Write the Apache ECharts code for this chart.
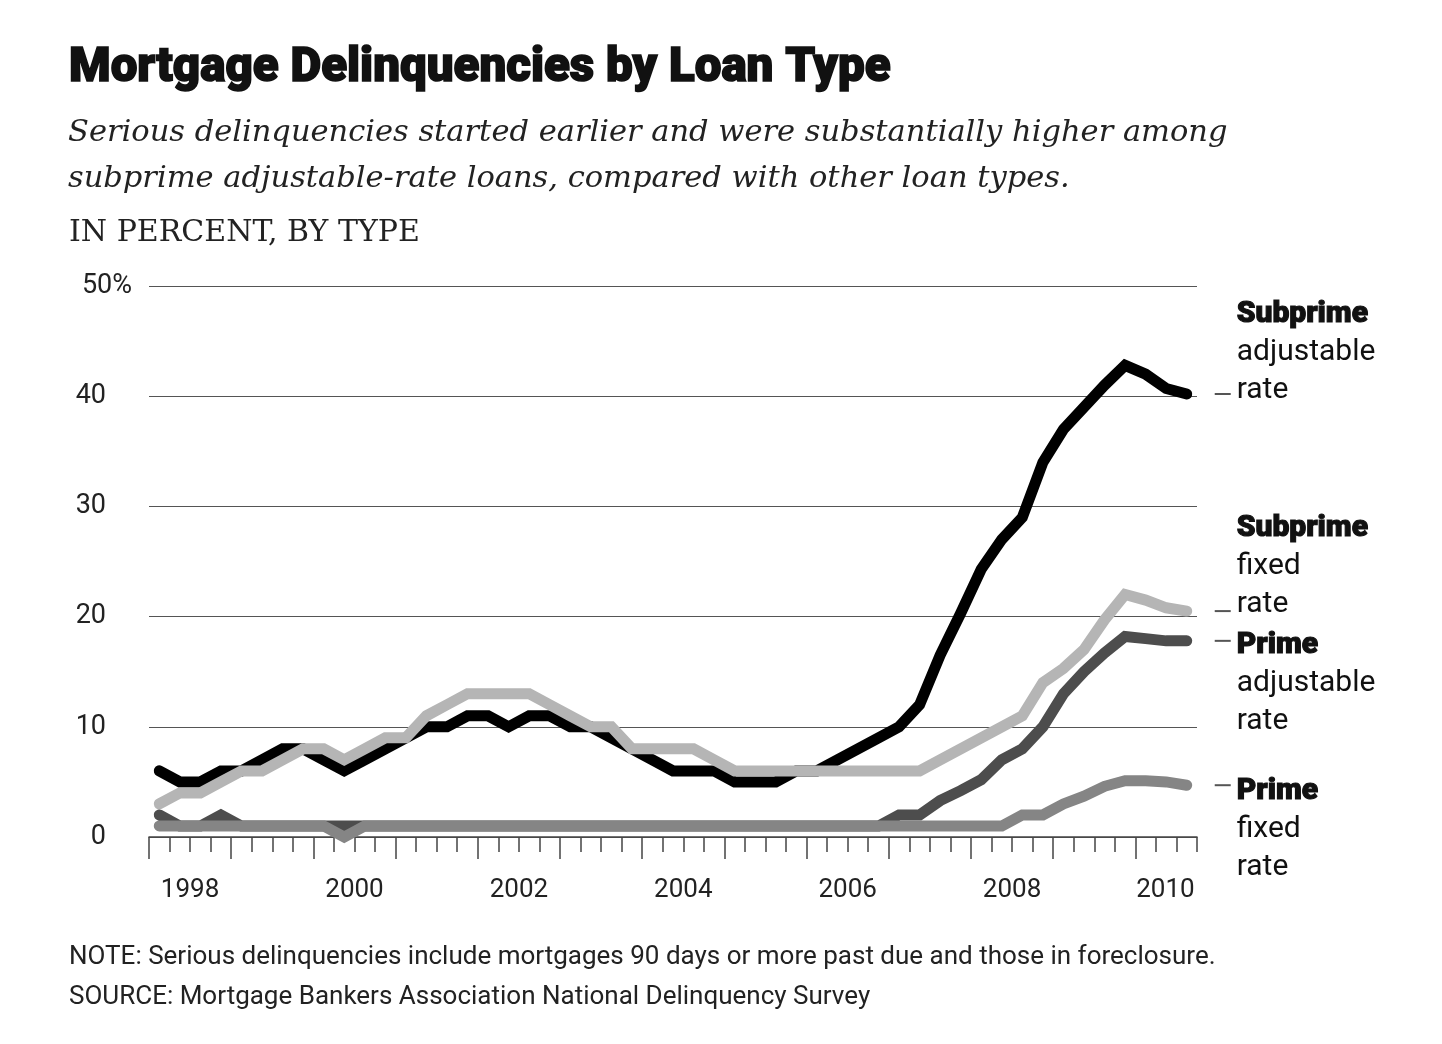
<!DOCTYPE html>
<html>
<head>
<meta charset="utf-8">
<title>Mortgage Delinquencies by Loan Type</title>
<script src="https://cdn.jsdelivr.net/npm/echarts@6/dist/echarts.min.js"></script>
<style>
  html, body { margin: 0; padding: 0; background: #fff; }
  #chart { width: 1442px; height: 1044px; }
</style>
</head>
<body>
<div id="chart"></div>
<script>
// quarterly readings, 1998 Q1 .. 2010 Q3
const quarters = [
  "1998Q1", "1998Q2", "1998Q3", "1998Q4", "1999Q1", "1999Q2", "1999Q3", "1999Q4",
  "2000Q1", "2000Q2", "2000Q3", "2000Q4", "2001Q1", "2001Q2", "2001Q3", "2001Q4",
  "2002Q1", "2002Q2", "2002Q3", "2002Q4", "2003Q1", "2003Q2", "2003Q3", "2003Q4",
  "2004Q1", "2004Q2", "2004Q3", "2004Q4", "2005Q1", "2005Q2", "2005Q3", "2005Q4",
  "2006Q1", "2006Q2", "2006Q3", "2006Q4", "2007Q1", "2007Q2", "2007Q3", "2007Q4",
  "2008Q1", "2008Q2", "2008Q3", "2008Q4", "2009Q1", "2009Q2", "2009Q3", "2009Q4",
  "2010Q1", "2010Q2", "2010Q3"
];

// long ticks at the start of each year, labels in the middle of every other year
const yearTicks = [1998, 1999, 2000, 2001, 2002, 2003, 2004, 2005, 2006, 2007, 2008, 2009, 2010];
const yearLabels = [1998, 2000, 2002, 2004, 2006, 2008, 2010];

const subprimeAdjustable = [
  6, 5, 5, 6, 6, 7, 8, 8, 7, 6, 7, 8, 9, 10, 10, 11, 11, 10, 11, 11,
  10, 10, 9, 8, 7, 6, 6, 6, 5, 5, 5, 6, 6, 7, 8, 9, 10, 12, 16.5, 20.3,
  24.3, 27, 29, 34, 37, 39, 41, 42.8, 42, 40.7, 40.2
];
const subprimeFixed = [
  3, 4, 4, 5, 6, 6, 7, 8, 8, 7, 8, 9, 9, 11, 12, 13, 13, 13, 13, 12,
  11, 10, 10, 8, 8, 8, 8, 7, 6, 6, 6, 6, 6, 6, 6, 6, 6, 6, 7, 8,
  9, 10, 11, 14, 15.3, 17, 19.7, 22, 21.5, 20.8, 20.5
];
const primeAdjustable = [
  2, 1, 1, 2, 1, 1, 1, 1, 1, 1, 1, 1, 1, 1, 1, 1, 1, 1, 1, 1,
  1, 1, 1, 1, 1, 1, 1, 1, 1, 1, 1, 1, 1, 1, 1, 1, 2, 2, 3.3, 4.2,
  5.2, 7, 8, 10, 13, 15, 16.7, 18.2, 18, 17.8, 17.8
];
const primeFixed = [
  1, 1, 1, 1, 1, 1, 1, 1, 1, 0, 1, 1, 1, 1, 1, 1, 1, 1, 1, 1,
  1, 1, 1, 1, 1, 1, 1, 1, 1, 1, 1, 1, 1, 1, 1, 1, 1, 1, 1, 1,
  1, 1, 2, 2, 3, 3.7, 4.6, 5.1, 5.1, 5.0, 4.7
];

const sans = "Roboto, 'Noto Sans', sans-serif";
const serif = "'DejaVu Serif', 'Liberation Serif', serif";

const labelRich = {
  b: { fontFamily: sans, fontWeight: 900, fontSize: 30, lineHeight: 38, color: "#111",
       textBorderColor: "#111", textBorderWidth: 1.1 },
  r: { fontFamily: sans, fontWeight: 400, fontSize: 30, lineHeight: 38, color: "#111" }
};

function makeSeries(name, data, color, text, dy) {
  const last = data.length - 1;
  return {
    name: name,
    type: "line",
    data: data,
    symbol: "none",
    clip: false,
    lineStyle: { color: color, width: 11, cap: "round", join: "miter" },
    endLabel: {
      show: true,
      formatter: text,
      rich: labelRich,
      distance: 50,
      align: "left",
      verticalAlign: "middle",
      offset: [0, dy]
    },
    markPoint: {
      silent: true,
      animation: false,
      symbol: "rect",
      symbolSize: [16, 2],
      symbolOffset: [36, 0],
      itemStyle: { color: "#555" },
      label: { show: false },
      data: [{ coord: [quarters[last], data[last]] }]
    }
  };
}

const chart = echarts.init(document.getElementById("chart"));
const firstYear = yearTicks[0];
const lastEdge = firstYear + quarters.length / 4;
// quarter boundaries for the short ticks
const quarterEdges = quarters.map(function (q, i) { return firstYear + i / 4; }).concat([lastEdge]);

const tickLine = { color: "#444", width: 1.5 };

chart.setOption({
  animation: false,
  backgroundColor: "#fff",
  title: [
    {
      text: "Mortgage Delinquencies by Loan Type",
      left: 69, top: 45, padding: 0,
      textStyle: { fontFamily: sans, fontWeight: 900, fontSize: 47.5, color: "#111",
                   textBorderColor: "#111", textBorderWidth: 1.6 }
    },
    {
      text: "Serious delinquencies started earlier and were substantially higher among\nsubprime adjustable-rate loans, compared with other loan types.",
      left: 68, top: 110, padding: 0,
      textStyle: { fontFamily: serif, fontStyle: "italic", fontWeight: "normal", fontSize: 30.5, lineHeight: 46, color: "#222" }
    },
    {
      text: "IN PERCENT, BY TYPE",
      left: 69, top: 218, padding: 0,
      textStyle: { fontFamily: serif, fontWeight: "normal", fontSize: 30, color: "#222" }
    },
    {
      text: "NOTE: Serious delinquencies include mortgages 90 days or more past due and those in foreclosure.\nSOURCE: Mortgage Bankers Association National Delinquency Survey",
      left: 69, top: 937, padding: 0,
      textStyle: { fontFamily: sans, fontWeight: "normal", fontSize: 26, lineHeight: 40, color: "#222" }
    }
  ],
  grid: { left: 149, right: 245, top: 286, bottom: 207 },
  xAxis: [
    {
      type: "category",
      data: quarters,
      position: "bottom",
      boundaryGap: true,
      axisLine: { lineStyle: { color: "#444", width: 1.5 } },
      axisTick: { show: false },
      axisLabel: { show: false },
      splitLine: { show: false }
    },
    {
      type: "value",
      min: firstYear,
      max: lastEdge,
      position: "bottom",
      axisLine: { show: false },
      axisTick: { show: true, customValues: quarterEdges, length: 15, lineStyle: tickLine },
      axisLabel: { show: false },
      splitLine: { show: false }
    },
    {
      type: "value",
      min: firstYear,
      max: lastEdge,
      position: "bottom",
      axisLine: { show: false },
      axisTick: { show: true, customValues: yearTicks, length: 22, lineStyle: tickLine },
      axisLabel: {
        show: true,
        customValues: yearLabels.map(function (y) { return y + 0.5; }),
        formatter: function (v) {
          const y = Math.floor(v);
          return y === yearLabels[yearLabels.length - 1] ? "{last|" + y + "}" : String(y);
        },
        margin: 40,
        fontFamily: sans,
        fontSize: 26,
        color: "#222",
        rich: { last: { fontFamily: sans, fontSize: 26, color: "#222", padding: [0, 22, 0, 0] } }
      },
      splitLine: { show: false }
    }
  ],
  yAxis: {
    type: "value",
    min: 0,
    max: 50,
    interval: 10,
    axisLine: { show: false },
    axisTick: { show: false },
    splitLine: { lineStyle: { color: "#555", width: 1.2 } },
    axisLabel: {
      margin: 17,
      fontFamily: sans,
      fontSize: 27,
      color: "#222",
      formatter: function (v) { return v === 50 ? v + "%" : "{n|" + v + "}"; },
      rich: { n: { fontFamily: sans, fontSize: 27, color: "#222", padding: [0, 26, 0, 0] } }
    }
  },
  series: [
    makeSeries("Subprime adjustable rate", subprimeAdjustable, "#000000",
      "{b|Subprime}\n{r|adjustable}\n{r|rate}", -41),
    makeSeries("Subprime fixed rate", subprimeFixed, "#b5b5b5",
      "{b|Subprime}\n{r|fixed}\n{r|rate}", -45),
    makeSeries("Prime adjustable rate", primeAdjustable, "#4d4d4d",
      "{b|Prime}\n{r|adjustable}\n{r|rate}", 43),
    makeSeries("Prime fixed rate", primeFixed, "#858585",
      "{b|Prime}\n{r|fixed}\n{r|rate}", 44)
  ]
});
</script>
</body>
</html>
